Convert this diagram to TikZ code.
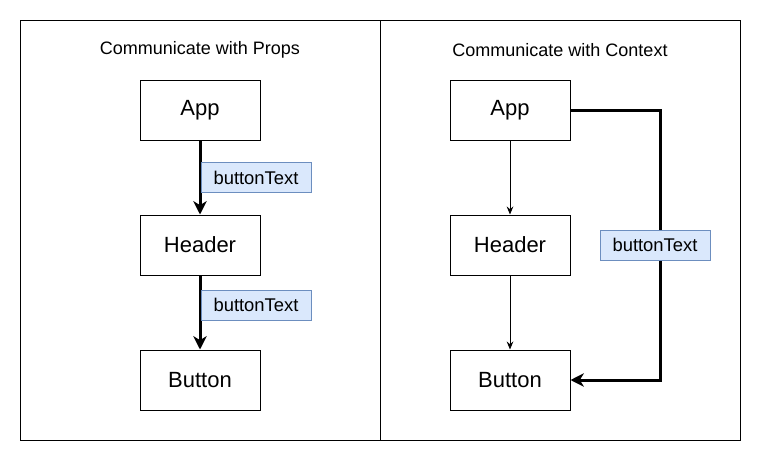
\documentclass[tikz,border=0pt]{standalone}
\usepackage{fontspec}
\setmainfont{Liberation Sans}
\usetikzlibrary{arrows.meta,positioning}

\definecolor{propfill}{HTML}{DAE8FC}
\definecolor{propline}{HTML}{6C8EBF}

\begin{document}
\begin{tikzpicture}[x=0.75pt,y=-0.75pt,
    comp/.style={draw,line width=0.75pt,minimum width=90pt,minimum height=45pt,font=\fontsize{16.5}{19}\selectfont},
    prop/.style={draw=propline,fill=propfill,line width=0.75pt,minimum width=82.5pt,minimum height=22.5pt,inner sep=0pt,font=\fontsize{13.8}{16}\selectfont},
    title/.style={font=\fontsize{13.5}{16}\selectfont},
    thin/.style={line width=0.75pt,-{Stealth[length=6pt,width=5pt,inset=2pt]}},
    thick/.style={line width=2.25pt,-{Stealth[length=10pt,width=10pt,inset=3pt]}}]
      \useasboundingbox (0,0) rectangle (761,461);
      \draw[line width=0.75pt] (20,20) rectangle (740,440);
      \draw[line width=0.75pt] (380,20) -- (380,440);

      % props side
      \node[title] (titleL) at (200,50) {Communicate with Props};
      \node[comp] (appL) at (200,110) {App};
      \node[comp] (headerL) at (200,245) {Header};
      \node[comp] (buttonL) at (200,380) {Button};
      \draw[thick] (appL) -- (headerL);
      \draw[thick] (headerL) -- (buttonL);
      \node[prop] (propA) at (256,177.5) {buttonText};
      \node[prop] (propB) at (256,305) {buttonText};

      % context side
      \node[title] (titleR) at (560,50) {Communicate with Context};
      \node[comp] (appR) at (510,110) {App};
      \node[comp] (headerR) at (510,245) {Header};
      \node[comp] (buttonR) at (510,380) {Button};
      \coordinate (turn) at (660,110);
      \draw[thin] (appR) -- (headerR);
      \draw[thin] (headerR) -- (buttonR);
      \draw[thick,line join=miter] (appR.east) -- (turn) |- (buttonR.east);
      \node[prop] (propC) at (655,245) {buttonText};
\end{tikzpicture}
\end{document}
